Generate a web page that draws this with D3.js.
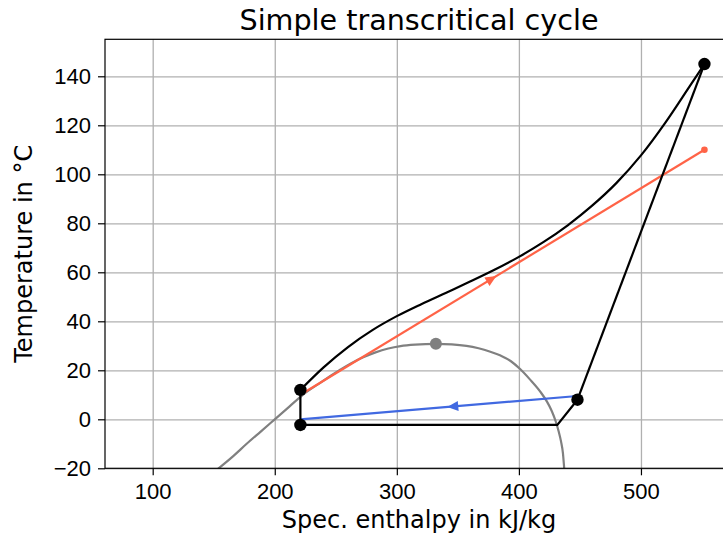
<!DOCTYPE html>
<html>
<head>
<meta charset="utf-8">
<script src="https://cdnjs.cloudflare.com/ajax/libs/d3/7.8.5/d3.min.js"></script>
<style>
  body { margin: 0; background: #fff; overflow: hidden; }
  svg { font-family: "DejaVu Sans", sans-serif; display: block; }
  .axis text { font-size: 22px; fill: #000; }
  .axis path, .axis line { stroke: #000; stroke-width: 1.2; }
  .grid line { stroke: #b0b0b0; stroke-width: 1.3; }
  .grid path { display: none; }
</style>
</head>
<body>
<div id="chart"><svg></svg></div>
<script>
var title = "Simple transcritical cycle";
var xLabel = "Spec. enthalpy in kJ/kg";
var yLabel = "Temperature in °C";

var xTicks = [100, 200, 300, 400, 500];
var yTicks = [-20, 0, 20, 40, 60, 80, 100, 120, 140];

// saturation dome of CO2 (liquid side -> critical point -> vapour side)
var satH = [149, 154, 166, 177, 188.5, 200, 211.5, 223, 237.5, 253, 262, 272, 282, 293, 303, 315, 332,
            345, 357, 367, 376, 385, 393.5, 401, 409, 417.5, 423, 427, 430, 432.5, 434.5, 436.1, 436.8, 437.1, 437.3];
var satT = [-22, -20, -15, -10, -5, 0, 5, 10, 15, 20, 22.7, 25.2, 27.2, 28.9, 29.9, 30.5, 30.8,
            30.6, 30.0, 29.0, 27.7, 26.0, 23.7, 20.5, 16.3, 11.3, 7.2, 3.3, -0.6, -4.8, -9, -13.9, -18, -20, -22];
var critH = 332, critT = 30.8;

// gas cooler isobar (state 3 -> state 2, by rising enthalpy)
var gcH = [221, 240, 260, 280, 300, 320, 340, 360, 380, 400, 420, 440, 460, 480, 500, 520, 540, 552];
var gcT = [12, 21.2, 29.5, 36.4, 42.1, 47, 51.6, 56.2, 61, 66.3, 72.3, 79.2, 87.2, 96.5, 107.7, 121.1, 136, 145];

// cycle states: 1 compressor inlet, 2 outlet, 3 gas cooler outlet, 4 after valve
var stateH = [448, 552, 221, 221];
var stateT = [8, 145, 12, -2.3];

// evaporator: 4 -> saturated vapour -> 1
var evapH = [221, 431.5, 448];
var evapT = [-2.3, -2.3, 8];

// heat sink (water) and heat source streams
var sinkH = [221, 552], sinkT = [10, 110];
var sourceH = [448, 221], sourceT = [9.5, 0];

// the axes run a little past the right edge of the picture
var margin = {top: 39.3, right: -10, bottom: 67.7, left: 105},
    W = 723, H = 536,
    w = W - margin.left - margin.right,
    h = H - margin.top - margin.bottom;

var svg = d3.select("#chart svg")
    .attr("width", W)
    .attr("height", H);

var xScale = d3.scaleLinear().domain([60.93, 575.4]).range([0, w]);
var yScale = d3.scaleLinear().domain([-20, 155.1]).range([h, 0]);

var g = svg.append("g")
    .attr("transform", "translate(" + margin.left + "," + margin.top + ")");

svg.append("defs").append("clipPath").attr("id", "clip")
  .append("rect").attr("width", w).attr("height", h);

// gridlines
g.append("g")
  .attr("class", "grid")
  .attr("transform", "translate(0," + h + ")")
  .call(d3.axisBottom(xScale).tickValues(xTicks).tickSize(-h).tickFormat(""));
g.append("g")
  .attr("class", "grid")
  .call(d3.axisLeft(yScale).tickValues(yTicks).tickSize(-w).tickFormat(""));

var plot = g.append("g").attr("clip-path", "url(#clip)");

function pts(hs, ts) {
  return hs.map(function(v, i) { return [xScale(v), yScale(ts[i])]; });
}
var line = d3.line();
var smooth = d3.line().curve(d3.curveMonotoneX);

// saturation curve
plot.append("path")
  .attr("d", smooth(pts(satH, satT)))
  .attr("fill", "none")
  .attr("stroke", "#808080")
  .attr("stroke-width", 2.2);
plot.append("circle")
  .attr("cx", xScale(critH)).attr("cy", yScale(critT)).attr("r", 6)
  .attr("fill", "#808080");

// arrow head along a stream
function arrow(hs, ts, frac, color) {
  var p = pts(hs, ts);
  var x = p[0][0] + (p[1][0] - p[0][0]) * frac,
      y = p[0][1] + (p[1][1] - p[0][1]) * frac;
  var ang = Math.atan2(p[1][1] - p[0][1], p[1][0] - p[0][0]) * 180 / Math.PI;
  plot.append("path")
    .attr("d", "M0,0L-11,-5L-11,5Z")
    .attr("transform", "translate(" + x + "," + y + ")rotate(" + ang + ")")
    .attr("fill", color);
}

// heat sink stream
plot.append("path")
  .attr("d", line(pts(sinkH, sinkT)))
  .attr("stroke", "#ff6347").attr("stroke-width", 2.2).attr("fill", "none");
plot.append("circle")
  .attr("cx", xScale(sinkH[1])).attr("cy", yScale(sinkT[1])).attr("r", 3.3)
  .attr("fill", "#ff6347");
arrow(sinkH, sinkT, 0.485, "#ff6347");

// heat source stream
plot.append("path")
  .attr("d", line(pts(sourceH, sourceT)))
  .attr("stroke", "#4169e1").attr("stroke-width", 2.2).attr("fill", "none");
arrow(sourceH, sourceT, 0.47, "#4169e1");

// cycle
plot.append("path")
  .attr("d", smooth(pts(gcH, gcT)))
  .attr("stroke", "#000").attr("stroke-width", 2.2).attr("fill", "none");
plot.append("path")
  .attr("d", line(pts([stateH[0], stateH[1]], [stateT[0], stateT[1]])))
  .attr("stroke", "#000").attr("stroke-width", 2.2).attr("fill", "none");
plot.append("path")
  .attr("d", line(pts([stateH[2], stateH[3]], [stateT[2], stateT[3]])))
  .attr("stroke", "#000").attr("stroke-width", 2.2).attr("fill", "none");
plot.append("path")
  .attr("d", line(pts(evapH, evapT)))
  .attr("stroke", "#000").attr("stroke-width", 2.2).attr("fill", "none");

plot.selectAll("circle.state")
  .data(stateH)
  .enter()
  .append("circle")
  .attr("class", "state")
  .attr("cx", function(d) { return xScale(d); })
  .attr("cy", function(d, i) { return yScale(stateT[i]); })
  .attr("r", 6.2)
  .attr("fill", "#000");

// axes
g.append("g")
  .attr("class", "axis")
  .attr("transform", "translate(0," + h + ")")
  .call(d3.axisBottom(xScale).tickValues(xTicks).tickSize(7).tickPadding(8.5).tickFormat(d3.format("d")))
  .call(function(s) { s.select(".domain").remove(); });
g.append("g")
  .attr("class", "axis")
  .call(d3.axisLeft(yScale).tickValues(yTicks).tickSize(7).tickPadding(7).tickFormat(d3.format("d")))
  .call(function(s) { s.select(".domain").remove(); });

// frame
g.append("rect")
  .attr("width", w).attr("height", h)
  .attr("fill", "none").attr("stroke", "#000").attr("stroke-width", 1.2);

svg.append("text")
  .attr("x", margin.left + w / 2)
  .attr("y", 29.5)
  .attr("text-anchor", "middle")
  .style("font-size", "28.6px")
  .text(title);

svg.append("text")
  .attr("x", margin.left + w / 2)
  .attr("y", 528)
  .attr("text-anchor", "middle")
  .style("font-size", "24px")
  .text(xLabel);

svg.append("text")
  .attr("text-anchor", "middle")
  .attr("transform", "translate(32," + (margin.top + h / 2) + ")rotate(-90)")
  .style("font-size", "24px")
  .text(yLabel);
</script>
</body>
</html>
